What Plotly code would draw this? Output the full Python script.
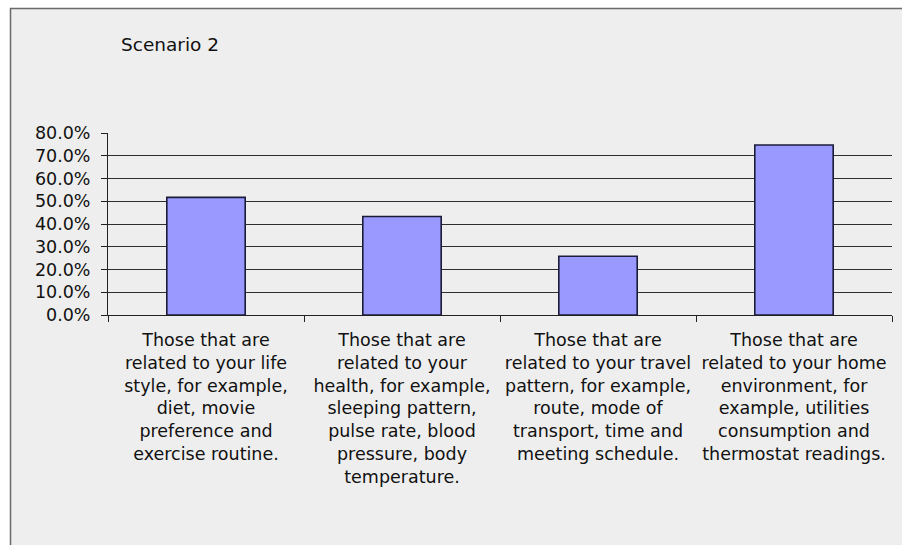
import plotly.graph_objects as go

# Share of respondents per data type (Scenario 2)
categories = [
    "Those that are<br>related to your life<br>style, for example,<br>diet, movie<br>preference and<br>exercise routine.",
    "Those that are<br>related to your<br>health, for example,<br>sleeping pattern,<br>pulse rate, blood<br>pressure, body<br>temperature.",
    "Those that are<br>related to your travel<br>pattern, for example,<br>route, mode of<br>transport, time and<br>meeting schedule.",
    "Those that are<br>related to your home<br>environment, for<br>example, utilities<br>consumption and<br>thermostat readings.",
]
values = [0.517, 0.433, 0.258, 0.747]
y_ticks = [0.0, 0.1, 0.2, 0.3, 0.4, 0.5, 0.6, 0.7, 0.8]
title_text = "Scenario 2"

W, H = 902, 545
L, R, T, B = 108, 10, 133, 230
pw, ph = W - L - R, H - T - B


def px_x(x):
    return (x - L) / pw


def px_y(y):
    return (H - B - y) / ph


FONT = "DejaVu Sans, Verdana, sans-serif"
FS = 17.5

fig = go.Figure(
    go.Bar(
        x=categories,
        y=values,
        width=0.4,
        marker=dict(color="#9999FF", line=dict(color="#1c1c3a", width=1.6)),
    )
)

fig.update_layout(
    width=W,
    height=H,
    margin=dict(l=L, r=R, t=T, b=B, pad=0),
    paper_bgcolor="white",
    plot_bgcolor="rgba(0,0,0,0)",
    showlegend=False,
    font=dict(family=FONT, size=FS, color="#111111"),
    bargap=0.6,
    shapes=[
        # chart area panel
        dict(
            type="rect", xref="paper", yref="paper", layer="below",
            x0=px_x(10.5), x1=px_x(W + 10), y0=px_y(H + 10), y1=px_y(8.5),
            fillcolor="#EEEEEE", line=dict(color="#6a6a6a", width=1.5),
        ),
    ],
    annotations=[
        dict(
            text=title_text, xref="paper", yref="paper",
            x=px_x(119), y=px_y(44), xanchor="left", yanchor="middle",
            showarrow=False, font=dict(family=FONT, size=18.5, color="#111111"),
        )
    ],
)

fig.update_xaxes(
    showgrid=False,
    showline=True, linecolor="#222222", linewidth=1,
    ticks="outside", tickson="boundaries", ticklen=6, tickcolor="#222222",
    tickangle=0, ticklabelstandoff=9,
    tickfont=dict(family=FONT, size=FS, color="#111111"),
)
fig.update_yaxes(
    range=[0, 0.8], tickvals=y_ticks, tickformat=".1%",
    showgrid=True, gridcolor="#2e2e2e", gridwidth=1.2,
    showline=True, linecolor="#222222", linewidth=1,
    ticks="outside", ticklen=6, tickcolor="#222222",
    ticklabelstandoff=7, zeroline=False,
    tickfont=dict(family=FONT, size=FS, color="#111111"),
)

fig.write_html("out.html")
